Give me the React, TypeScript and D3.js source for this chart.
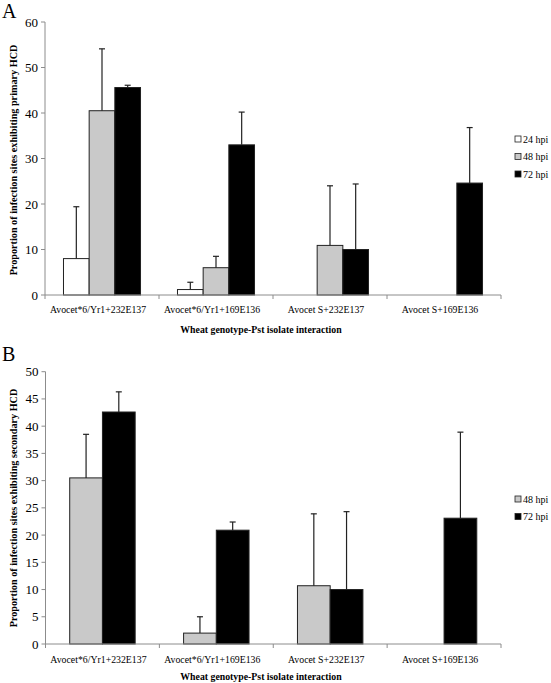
import React from "react";
import * as d3 from "d3";

const categories = [
  "Avocet*6/Yr1+232E137",
  "Avocet*6/Yr1+169E136",
  "Avocet S+232E137",
  "Avocet S+169E136",
];

// Panel A (primary HCD)
const seriesA = ["24 hpi", "48 hpi", "72 hpi"];
const valuesA24 = [8, 1.2, 0, 0];
const errTopA24: (number | null)[] = [19.4, 2.8, null, null];
const valuesA48 = [40.5, 6, 10.9, 0];
const errTopA48: (number | null)[] = [54.1, 8.5, 24.0, null];
const valuesA72 = [45.6, 33, 10, 24.6];
const errTopA72: (number | null)[] = [46.1, 40.2, 24.4, 36.8];
const ticksA = [0, 10, 20, 30, 40, 50, 60];

// Panel B (secondary HCD)
const seriesB = ["48 hpi", "72 hpi"];
const valuesB48 = [30.5, 2, 10.7, 0];
const errTopB48: (number | null)[] = [38.5, 5.0, 23.9, null];
const valuesB72 = [42.6, 20.9, 10, 23.1];
const errTopB72: (number | null)[] = [46.3, 22.4, 24.3, 38.9];
const ticksB = [0, 5, 10, 15, 20, 25, 30, 35, 40, 45, 50];

const fillFor: Record<string, string> = {
  "24 hpi": "#ffffff",
  "48 hpi": "#c9c9c9",
  "72 hpi": "#000000",
};

const FONT = "Liberation Serif, DejaVu Serif, Times, serif";

type PanelProps = {
  label: string;
  labelY: number;
  series: string[];
  values: number[][];
  errTops: (number | null)[][];
  ticks: number[];
  yMax: number;
  x0: number;
  x1: number;
  yTop: number;
  yBottom: number;
  innerPad: number;
  yTitle: string;
  yTitleCenter: number;
  yTitleSize: number;
  catLabelY: number;
  xTitleY: number;
  legendX: number;
  legendY: number;
};

function Panel(p: PanelProps) {
  const x = d3.scaleBand<string>().domain(categories).range([p.x0, p.x1]).padding(0);
  const y = d3.scaleLinear().domain([0, p.yMax]).range([p.yBottom, p.yTop]);
  const inner = d3
    .scaleBand<string>()
    .domain(p.series)
    .range([0, x.bandwidth()])
    .paddingInner(0)
    .paddingOuter(p.innerPad);
  const axisColor = "#8c8c8c";
  const boundaries = [...categories.map((c) => x(c) as number), p.x1];
  return (
    <g style={{ fontFamily: FONT }}>
      <text x={2} y={p.labelY} fontSize={20}>
        {p.label}
      </text>
      {/* y axis */}
      <line x1={p.x0} x2={p.x0} y1={y(p.yMax)} y2={y(0)} stroke={axisColor} strokeWidth={1} />
      {p.ticks.map((t) => (
        <g key={t}>
          <line x1={p.x0 - 4} x2={p.x0} y1={y(t)} y2={y(t)} stroke={axisColor} strokeWidth={1} />
          <text x={p.x0 - 7} y={y(t)} dy="0.35em" textAnchor="end" fontSize={13}>
            {t}
          </text>
        </g>
      ))}
      {/* bars */}
      {p.series.map((s, si) =>
        categories.map((c, ci) => {
          const v = p.values[si][ci];
          const bx = (x(c) as number) + (inner(s) as number);
          const bw = inner.bandwidth();
          const top = y(v);
          const e = p.errTops[si][ci];
          return (
            <g key={s + c}>
              <rect
                x={bx}
                y={top}
                width={bw}
                height={y(0) - top}
                fill={fillFor[s]}
                stroke={v === 0 ? "#9a9a9a" : "#222"}
                strokeWidth={1}
              />
              {e !== null && (
                <g stroke="#222" strokeWidth={1.2}>
                  <line x1={bx + bw / 2} x2={bx + bw / 2} y1={top} y2={y(e)} />
                  <line x1={bx + bw / 2 - 3} x2={bx + bw / 2 + 3} y1={y(e)} y2={y(e)} />
                </g>
              )}
            </g>
          );
        })
      )}
      {/* x axis */}
      <line x1={p.x0} x2={p.x1} y1={y(0)} y2={y(0)} stroke={axisColor} strokeWidth={1} />
      {boundaries.map((bx, i) => (
        <line key={i} x1={bx} x2={bx} y1={y(0)} y2={y(0) + 4} stroke={axisColor} strokeWidth={1} />
      ))}
      {categories.map((c) => (
        <text
          key={c}
          x={(x(c) as number) + x.bandwidth() / 2 - 4}
          y={p.catLabelY}
          textAnchor="middle"
          fontSize={9.8}
        >
          {c}
        </text>
      ))}
      <text x={261} y={p.xTitleY} textAnchor="middle" fontSize={9.8} fontWeight="bold">
        Wheat genotype-Pst isolate interaction
      </text>
      <text
        transform={`translate(17,${p.yTitleCenter}) rotate(-90)`}
        textAnchor="middle"
        fontSize={p.yTitleSize}
        fontWeight="bold"
      >
        {p.yTitle}
      </text>
      {/* legend */}
      {p.series.map((s, i) => (
        <g key={s} transform={`translate(${p.legendX},${p.legendY + i * 17.5})`}>
          <rect x={0} y={-3} width={6} height={6} fill={fillFor[s]} stroke="#222" strokeWidth={0.8} />
          <text x={8} y={0} dy="0.35em" fontSize={10}>
            {s}
          </text>
        </g>
      ))}
    </g>
  );
}

export default function App() {
  return (
    <svg
      width={551}
      height={683}
      style={{ position: "absolute", left: 0, top: 0, background: "#fff" }}
    >
      <rect width={551} height={683} fill="#fff" />
      <Panel
        label="A"
        labelY={18}
        series={seriesA}
        values={[valuesA24, valuesA48, valuesA72]}
        errTops={[errTopA24, errTopA48, errTopA72]}
        ticks={ticksA}
        yMax={60}
        x0={45}
        x1={501}
        yTop={22}
        yBottom={295}
        innerPad={0.72}
        yTitle="Proportion of infection sites exhibiting primary HCD"
        yTitleCenter={160}
        yTitleSize={10.2}
        catLabelY={313}
        xTitleY={333}
        legendX={515}
        legendY={139}
      />
      <Panel
        label="B"
        labelY={361}
        series={seriesB}
        values={[valuesB48, valuesB72]}
        errTops={[errTopB48, errTopB72]}
        ticks={ticksB}
        yMax={50}
        x0={45.5}
        x1={501}
        yTop={371.7}
        yBottom={644}
        innerPad={0.74}
        yTitle="Proportion of infection sites exhibiting  secondary HCD"
        yTitleCenter={508}
        yTitleSize={10.2}
        catLabelY={663}
        xTitleY={680}
        legendX={515}
        legendY={499}
      />
    </svg>
  );
}
